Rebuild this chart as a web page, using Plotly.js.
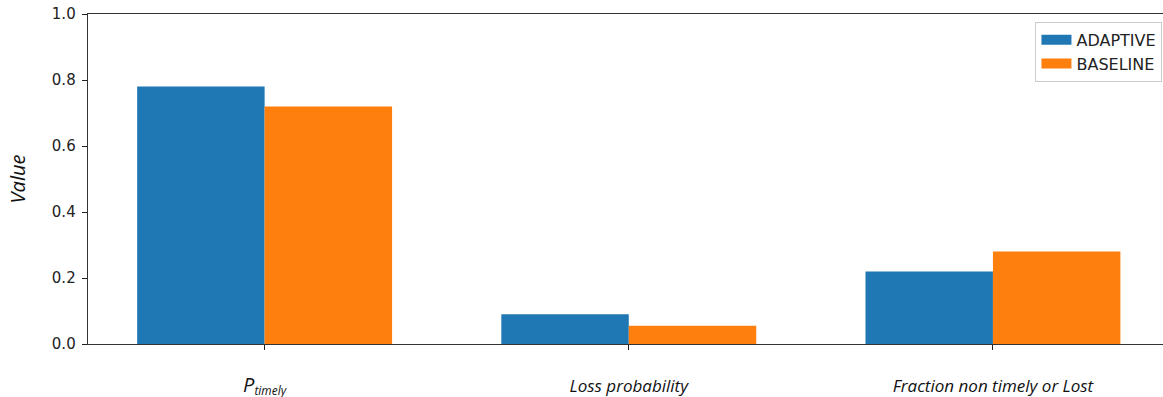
<!DOCTYPE html>
<html>
<head>
<meta charset="utf-8">
<script src="https://cdn.plot.ly/plotly-3.0.1.min.js"></script>
<style>html,body{margin:0;padding:0;background:#fff;}#chart{width:1163px;height:397px;}</style>
</head>
<body>
<div id="chart"></div>
<script>
const categories = ["<i><span style=\"font-size:20px\">P</span><sub>timely</sub></i>", "<i>Loss probability</i>", "<i>Fraction non timely or Lost</i>"];
const adaptive = [0.78, 0.09, 0.22];
const baseline = [0.72, 0.055, 0.28];
const seriesNames = ["ADAPTIVE", "BASELINE"];
const seriesColors = ["#1f77b4", "#ff7f0e"];
const yTicks = [0, 0.2, 0.4, 0.6, 0.8, 1.0];
const yTickText = ["0.0", "0.2", "0.4", "0.6", "0.8", "1.0"];

const idx = categories.map((_, i) => i);
const traces = [adaptive, baseline].map((vals, k) => ({
  type: "bar",
  x: idx,
  y: vals,
  name: seriesNames[k],
  legendgroup: seriesNames[k],
  showlegend: false,
  marker: {color: seriesColors[k], line: {width: 0}},
  hoverinfo: "skip"
}));
// legend-only entries with wide patch swatches
seriesNames.forEach((nm, k) => traces.push({
  type: "scatter", mode: "lines", x: [null], y: [null],
  name: nm, legendgroup: nm, showlegend: true,
  line: {color: seriesColors[k], width: 12}, hoverinfo: "skip"
}));

const layout = {
  width: 1163, height: 397,
  margin: {l: 88, r: 0, t: 14, b: 53, pad: 0},
  paper_bgcolor: "#fff", plot_bgcolor: "#fff",
  barmode: "group", bargap: 0.3, bargroupgap: 0,
  font: {family: "DejaVu Sans", size: 15, color: "#222"},
  showlegend: true,
  legend: {
    x: 0.9995, xanchor: "right", y: 0.976, yanchor: "top",
    bgcolor: "rgba(255,255,255,0.8)", bordercolor: "#cccccc", borderwidth: 1,
    font: {family: "DejaVu Sans", size: 16, color: "#222"},
    tracegroupgap: 0, itemwidth: 30
  },
  xaxis: {
    range: [-0.485, 2.467],
    tickmode: "array", tickvals: idx, ticktext: categories,
    ticks: "outside", ticklen: 5, tickwidth: 1, tickcolor: "#222",
    ticklabelstandoff: 21,
    tickfont: {family: "Open Sans", size: 17, color: "#111"},
    showline: true, linecolor: "#333", linewidth: 1.3, mirror: true,
    showgrid: false, zeroline: false, fixedrange: true
  },
  yaxis: {
    range: [0, 1.0],
    tickmode: "array", tickvals: yTicks, ticktext: yTickText,
    ticks: "outside", ticklen: 5, tickwidth: 1, tickcolor: "#222",
    ticklabelstandoff: 3,
    tickfont: {family: "DejaVu Sans", size: 15, color: "#222"},
    showline: true, linecolor: "#333", linewidth: 1.3, mirror: false,
    showgrid: false, zeroline: false, fixedrange: true,
    automargin: false,
    title: {text: "<i>Value</i>", font: {family: "Open Sans", size: 20, color: "#111"}, standoff: 20}
  }
};

Plotly.newPlot("chart", traces, layout, {displayModeBar: false, staticPlot: true});
</script>
</body>
</html>
